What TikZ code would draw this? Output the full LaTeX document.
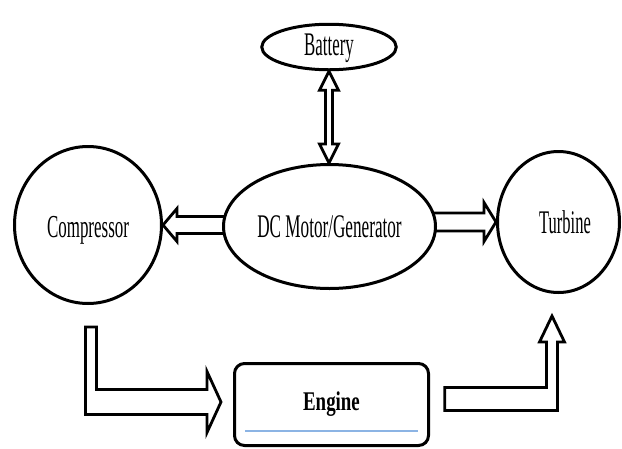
\documentclass[tikz,border=0pt]{standalone}
\usepackage{fontspec}
\usepackage{graphicx}
\setmainfont{Liberation Serif}
\usetikzlibrary{shapes.geometric,calc}
\pgfdeclarelayer{background}
\pgfsetlayers{background,main}
\newcommand{\sqz}[2]{\scalebox{#1}[1]{#2}}
\definecolor{uline}{RGB}{140,180,228}
\begin{document}
\begin{tikzpicture}[x=1pt,y=-1pt,
  shp/.style={draw=black, line width=3pt, fill=white, inner sep=0pt, text=black},
  blk/.style={draw=black, line width=2.8pt, fill=white, line join=miter},
  big/.style={font=\fontsize{33pt}{36pt}\selectfont}]
\useasboundingbox (0,0) rectangle (622,448);

\node[shp, ellipse, big, minimum width=134.5pt, minimum height=45.5pt,
      text height=22pt, text depth=6pt] (bat) at (329,47) {\sqz{0.51}{Battery}};
\node[shp, ellipse, big, minimum width=212pt, minimum height=124pt,
      text height=21pt, text depth=0pt] (dc) at (329.5,226.5) {\sqz{0.52}{DC Motor/Generator}};
\node[shp, ellipse, font=\fontsize{32pt}{36pt}\selectfont, minimum width=147pt, minimum height=157pt,
      text height=24pt, text depth=0pt] (comp) at (88,225) {\sqz{0.53}{Compressor}};
\node[shp, ellipse, big, minimum width=122pt, minimum height=141pt,
      text height=22pt, text depth=0pt] (turb) at (558.5,222) {\hspace*{13pt}\sqz{0.50}{Turbine}};
\node[shp, rectangle, rounded corners=10pt, minimum width=194pt, minimum height=82pt,
      font=\fontsize{27pt}{30pt}\selectfont\bfseries, text height=18pt, text depth=7pt]
      (eng) at (331.5,404.5) {\sqz{0.70}{Engine}};
\draw[uline, line width=2pt] ($(eng.south west)+(12,-16)$) -- ($(eng.south east)+(-12,-16)$);

\begin{pgfonlayer}{background}
  % Battery <-> DC motor
  \coordinate (t1) at (bat.south);
  \coordinate (t2) at (bat.south |- dc.north);
  \draw[blk] (t1) -- ++(9.5,19) -- ++(-6,0) -- ($(t2)+(3.5,-19)$) -- ++(6,0) -- (t2)
     -- ++(-9.5,-19) -- ++(6,0) -- ($(t1)+(-3.5,19)$) -- ++(-6,0) -- cycle;
  % DC motor -> Compressor
  \coordinate (l0) at (dc.west |- comp.east);
  \draw[blk] (comp.east) -- ++(14,-16.5) -- ++(0,8) -- ($(l0)+(6,-8.5)$) -- ++(0,17)
     -- ($(comp.east)+(14,8.5)$) -- ++(0,8) -- cycle;
  % DC motor -> Turbine
  \coordinate (r0) at (dc.east |- turb.west);
  \draw[blk] (turb.west) -- ++(-12,-19.5) -- ++(0,10.5) -- ($(r0)+(-6,-9)$) -- ++(0,18)
     -- ($(turb.west)+(-12,9)$) -- ++(0,10.5) -- cycle;
\end{pgfonlayer}

% Compressor -> Engine
\coordinate (ca) at ($(comp.south)+(3,22)$);
\coordinate (ct) at ($(eng.west)+(-12,-2.5)$);
\draw[blk] ($(ca)+(-5.5,0)$) -- ++(11,0) -- ($(ca |- ct)+(5.5,-12.5)$) -- ($(ct)+(-14,-12.5)$)
   -- ++(0,-18) -- (ct) -- ++(-14,30.5) -- ++(0,-18) -- ($(ca |- ct)+(-5.5,12.5)$) -- cycle;

% Engine -> Turbine
\coordinate (ea) at ($(eng.east)+(14.75,-5.5)$);
\coordinate (tt) at ($(turb.south)+(-6.5,22)$);
\draw[blk] ($(ea)+(0,-11.5)$) -- ($(tt |- ea)+(-5.5,-11.5)$) -- ($(tt)+(-5.5,26)$) -- ++(-7,0)
   -- (tt) -- ++(12.5,26) -- ++(-7,0) -- ($(tt |- ea)+(5.5,11.5)$) -- ($(ea)+(0,11.5)$) -- cycle;
\end{tikzpicture}
\end{document}
